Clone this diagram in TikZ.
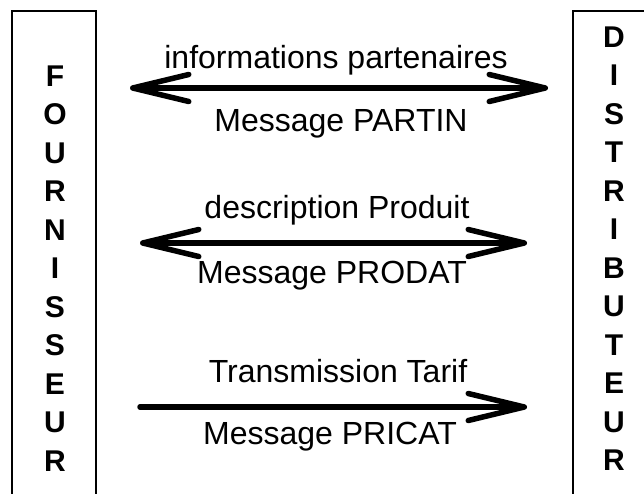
\documentclass[tikz,border=0pt]{standalone}
\usepackage{fontspec}
\setmainfont{Liberation Sans}
\usetikzlibrary{arrows.meta,calc}

\tikzset{
  party/.style = {draw, line width=1.8pt},
  partyname/.style = {font=\fontsize{30}{38.5}\selectfont\bfseries,
    align=center, inner sep=0pt},
  msg/.style = {line width=5.5pt, line cap=round},
  lbl/.style = {font=\fontsize{32}{38}\selectfont, inner sep=0pt, anchor=base}
}

\begin{document}
\begin{tikzpicture}[x=1pt, y=-1pt,
    >={Straight Barb[length=56pt,width=27pt,round]}]
  \useasboundingbox (0,0) rectangle (644,493);
  \clip (0,0) rectangle (644,493);

  % the two partners, cut off at the page edge
  \draw[party] (12,11) rectangle (96,530);
  \draw[party] (573,11) rectangle (690,530);
  \node[partyname] (fournisseur) at (55,268.5)
    {F\\O\\U\\R\\N\\I\\S\\S\\E\\U\\R};
  \node[partyname] (distributeur) at (614,248.5)
    {D\\I\\S\\T\\R\\I\\B\\U\\T\\E\\U\\R};

  % PARTIN
  \coordinate (partinW) at (130,88);
  \coordinate (partinE) at (548,88);
  \draw[msg, <->] (partinW) -- (partinE);
  \node[lbl] (partinUp) at ($(partinW)!0.5!(partinE) + (-3,-20)$) {informations partenaires};
  \node[lbl] (partinDown) at ($(partinW)!0.5!(partinE) + (2,43)$) {Message PARTIN};

  % PRODAT
  \coordinate (prodatW) at (140,243);
  \coordinate (prodatE) at (527,243);
  \draw[msg, <->] (prodatW) -- (prodatE);
  \node[lbl] (prodatUp) at ($(prodatW)!0.5!(prodatE) + (3.5,-25)$) {description Produit};
  \node[lbl] (prodatDown) at ($(prodatW)!0.5!(prodatE) + (-1.5,40)$) {Message PRODAT};

  % PRICAT
  \coordinate (pricatW) at (140,407);
  \coordinate (pricatE) at (527,407);
  \draw[msg, ->] (pricatW) -- (pricatE);
  \node[lbl] (pricatUp) at ($(pricatW)!0.5!(pricatE) + (4.5,-25)$) {Transmission Tarif};
  \node[lbl] (pricatDown) at ($(pricatW)!0.5!(pricatE) + (-3.5,37)$) {Message PRICAT};
\end{tikzpicture}
\end{document}
